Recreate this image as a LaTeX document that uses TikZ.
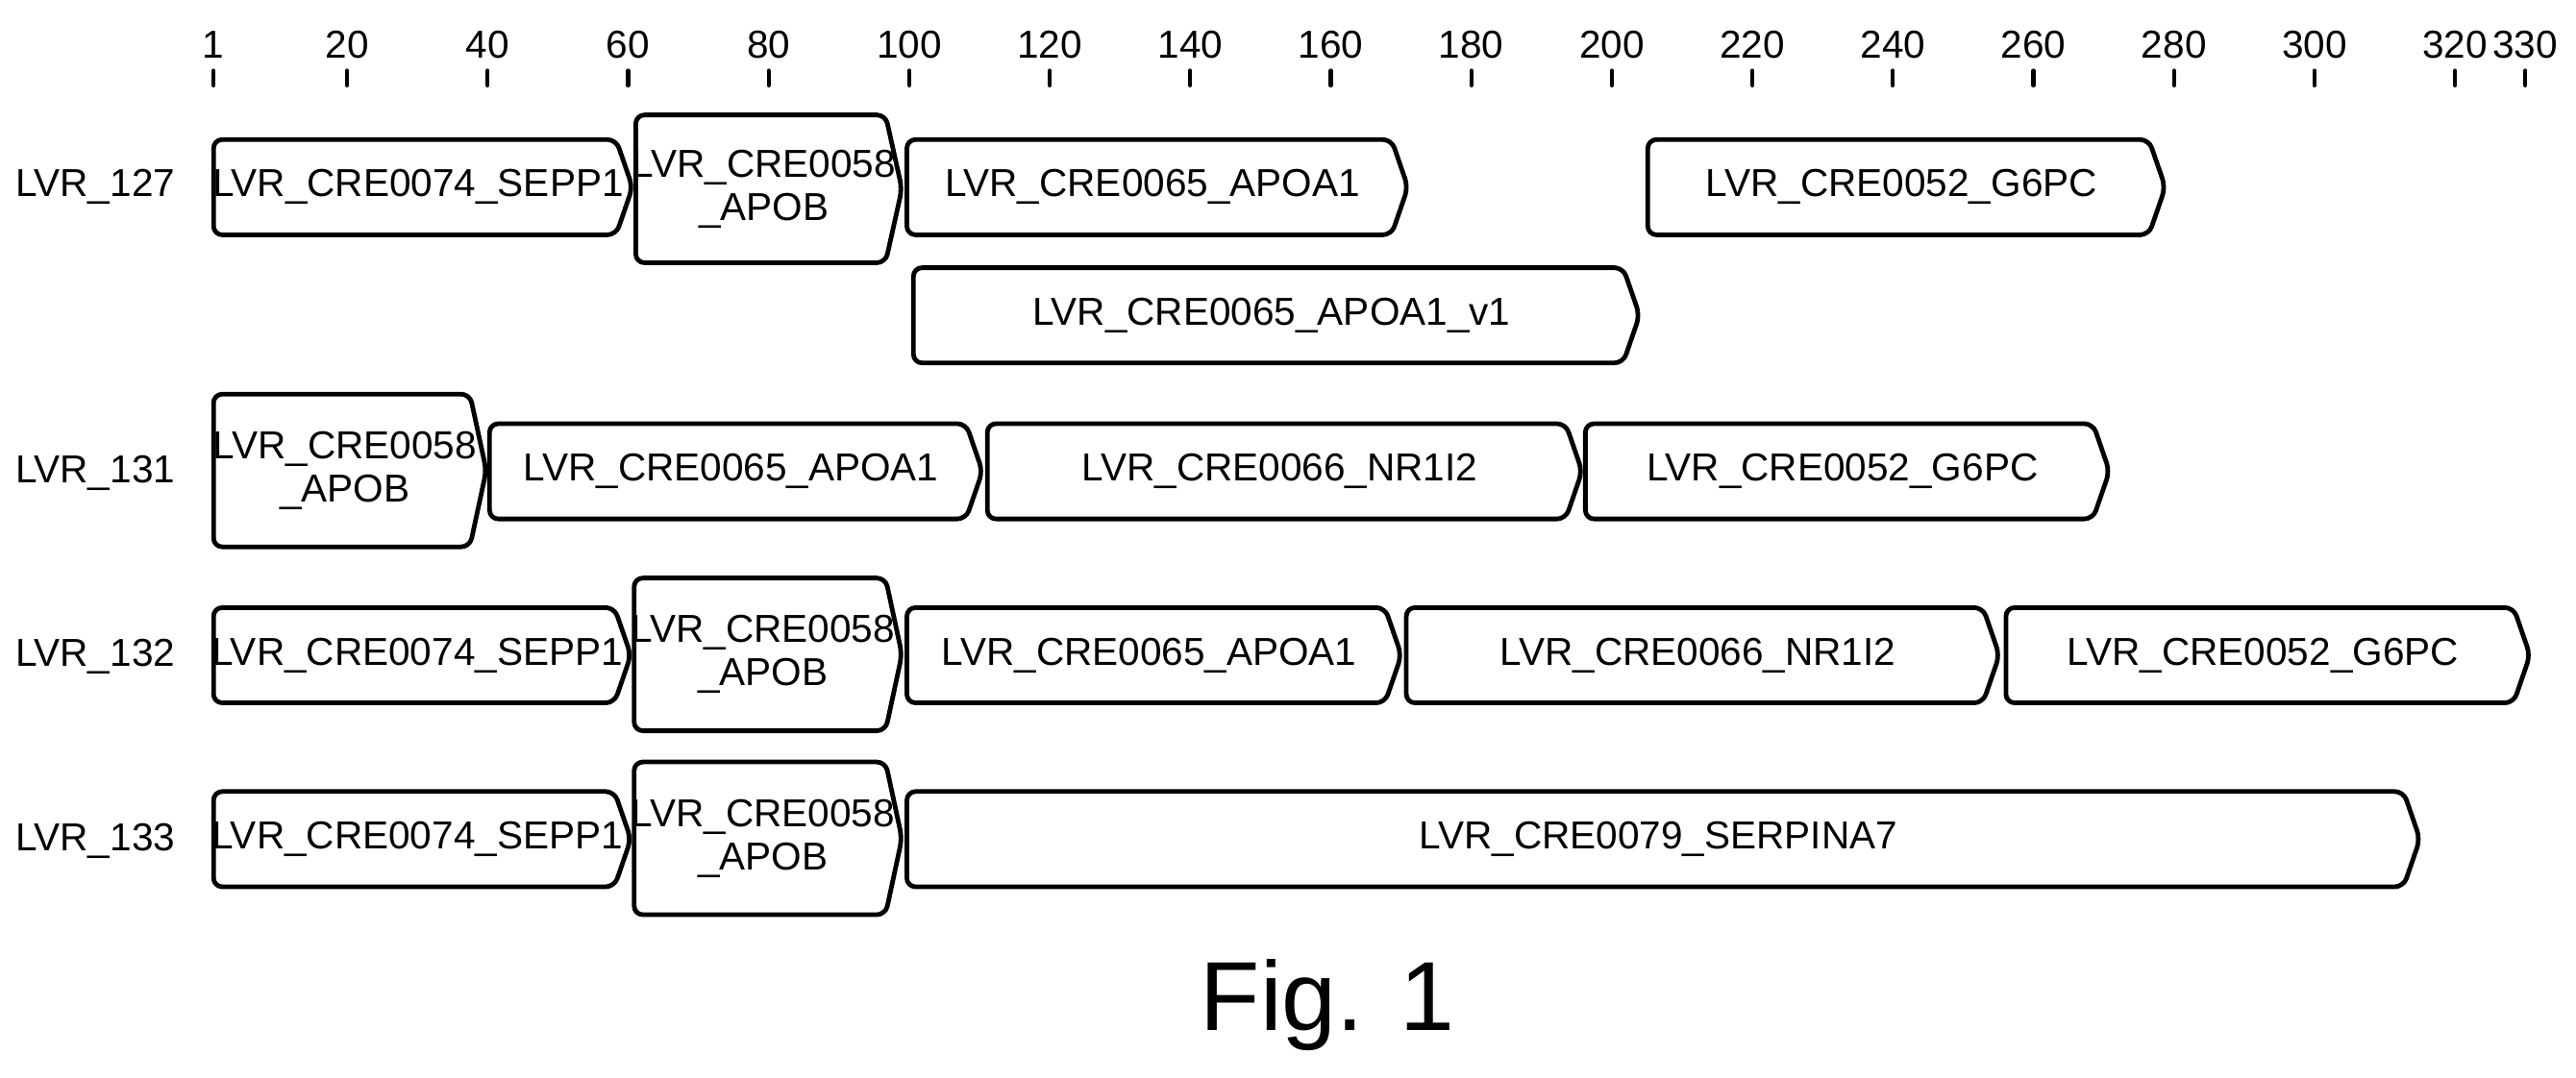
\documentclass[tikz,border=0pt]{standalone}
\usepackage{fontspec}
\setmainfont{Liberation Sans}
\usetikzlibrary{positioning,calc}

% one regulatory element: left x, right x, top y, bottom y (reference pixels)
\newcommand{\cre}[6]{%
  \draw[element] (#2,#4) -- (#3-10,#4) -- (#3,{(#4+#5)/2}) -- (#3-10,#5) -- (#2,#5) -- cycle;
  \node[elabel] (#1) at ({(#2+#3-6)/2},{(#4+#5)/2}) {#6};
}

\begin{document}
\begin{tikzpicture}[
    x=0.02cm, y=-0.02cm,
    element/.style={draw, line width=1.6pt, rounded corners=3pt, line join=round},
    elabel/.style={font=\fontsize{13.5}{15}\selectfont, align=center, inner sep=0pt},
    rowlabel/.style={font=\fontsize{13.5}{15}\selectfont, inner sep=0pt},
    ticklabel/.style={font=\fontsize{13.5}{15}\selectfont, inner sep=0pt},
    tick/.style={line width=1.4pt, line cap=round}
]
    \useasboundingbox (0,0) rectangle (1568,656);

    % Scale
    \foreach \v in {1,20,40,...,320,330} {
        \node[ticklabel] (t\v) at ({130+(\v-1)*4.277},27) {\v};
        \draw[tick] ({130+(\v-1)*4.277},43) -- ({130+(\v-1)*4.277},52);
    }

    % LVR_127
    \node[rowlabel] (r127) at (58,114) {LVR\_127};
    \cre{a1}{130}{385}{85}{143}{LVR\_CRE0074\_SEPP1}
    \cre{a2}{387}{549}{70}{160}{LVR\_CRE0058\\\_APOB}
    \cre{a3}{552}{857}{85}{143}{LVR\_CRE0065\_APOA1}
    \cre{a4}{1003}{1318}{85}{143}{LVR\_CRE0052\_G6PC}
    \cre{a5}{556}{998}{163}{221}{LVR\_CRE0065\_APOA1\_v1}

    % LVR_131
    \node[rowlabel] (r131) at (58,288) {LVR\_131};
    \cre{b1}{130}{296}{240}{333}{LVR\_CRE0058\\\_APOB}
    \cre{b2}{298}{598}{258}{316}{LVR\_CRE0065\_APOA1}
    \cre{b3}{601}{963}{258}{316}{LVR\_CRE0066\_NR1I2}
    \cre{b4}{965}{1284}{258}{316}{LVR\_CRE0052\_G6PC}

    % LVR_132
    \node[rowlabel] (r132) at (58,400) {LVR\_132};
    \cre{c1}{130}{384}{370}{428}{LVR\_CRE0074\_SEPP1}
    \cre{c2}{386}{549}{352}{445}{LVR\_CRE0058\\\_APOB}
    \cre{c3}{552}{853}{370}{428}{LVR\_CRE0065\_APOA1}
    \cre{c4}{856}{1217}{370}{428}{LVR\_CRE0066\_NR1I2}
    \cre{c5}{1221}{1540}{370}{428}{LVR\_CRE0052\_G6PC}

    % LVR_133
    \node[rowlabel] (r133) at (58,512) {LVR\_133};
    \cre{d1}{130}{384}{482}{540}{LVR\_CRE0074\_SEPP1}
    \cre{d2}{386}{549}{464}{557}{LVR\_CRE0058\\\_APOB}
    \cre{d3}{552}{1473}{482}{540}{LVR\_CRE0079\_SERPINA7}

    % Caption
    \node[font=\fontsize{34}{38}\selectfont] (fig) at (808,612) {Fig. 1};
\end{tikzpicture}
\end{document}
